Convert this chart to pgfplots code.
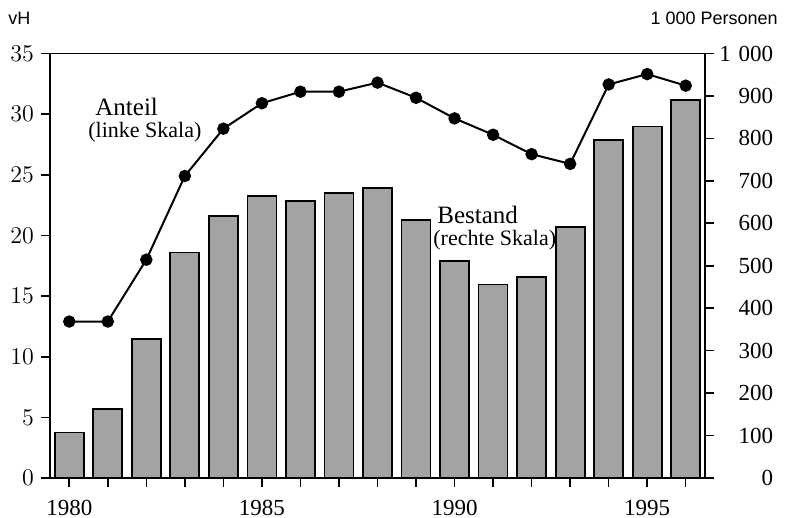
\documentclass[border=0pt]{standalone}
\usepackage{fontspec}
\setmainfont{Liberation Serif}
\setsansfont{Liberation Sans}
\usepackage{pgfplots}
\pgfplotsset{compat=1.18}

\begin{document}
\begin{tikzpicture}
\path[use as bounding box] (-25pt,-20pt) rectangle (371pt,239pt);
\pgfplotsset{
  common/.style={
    at={(0,0)}, anchor=south west,
    scale only axis, width=327.5pt, height=212.25pt,
    xmin=1979.5, xmax=1996.5,
    tick align=outside, major tick length=4.5pt,
    tick style={line width=0.8pt, black},
    axis line style={line width=0.8pt},
    ticklabel style={font=\fontsize{11.5}{12}\selectfont},
  }
}
% Bestand (rechte Skala)
\begin{axis}[common,
  ymin=0, ymax=1000,
  ytick={0,100,...,1000},
  yticklabels={0,100,200,300,400,500,600,700,800,900,1~000},
  ytick pos=right,
  yticklabel style={text width=28pt, align=right, xshift=-2pt},
  xtick={1980,...,1996},
  xticklabels={1980,,,,,1985,,,,,1990,,,,,1995,},
  xtick pos=bottom,
  xticklabel style={yshift=-3pt},
]
\addplot[ybar, bar width=14.5pt, fill=black!36, draw=black, line width=0.9pt]
  coordinates {
  (1980,107) (1981,163) (1982,327) (1983,531) (1984,617) (1985,664)
  (1986,653) (1987,672) (1988,684) (1989,608) (1990,512) (1991,456)
  (1992,474) (1993,592) (1994,796) (1995,828) (1996,890)
  };
\end{axis}
% Anteil (linke Skala)
\begin{axis}[common,
  ymin=0, ymax=35,
  ytick={0,5,...,35},
  axis y line*=left,
  hide x axis,
]
\addplot[black, line width=1pt, mark=*, mark size=2.6pt, mark options={fill=black}]
  coordinates {
  (1980,12.9) (1981,12.9) (1982,18.0) (1983,24.9) (1984,28.8) (1985,30.9)
  (1986,31.85) (1987,31.85) (1988,32.6) (1989,31.35) (1990,29.65) (1991,28.3)
  (1992,26.7) (1993,25.9) (1994,32.45) (1995,33.3) (1996,32.35)
  };
\end{axis}
\node[anchor=west, font=\sffamily\fontsize{9}{10}\selectfont, inner sep=0pt] at (-21pt,230pt) {vH};
\node[anchor=east, font=\sffamily\fontsize{9}{10}\selectfont, inner sep=0pt] at (364pt,230pt) {1 000 Personen};
\node[anchor=west, font=\fontsize{12.5}{13}\selectfont, inner sep=0pt] at (22.5pt,185.5pt) {Anteil};
\node[anchor=west, font=\fontsize{11}{12}\selectfont, inner sep=0pt] at (19pt,173pt) {(linke Skala)};
\node[anchor=west, font=\fontsize{12.5}{13}\selectfont, inner sep=0pt] at (193.5pt,131.5pt) {Bestand};
\node[anchor=west, font=\fontsize{11}{12}\selectfont, inner sep=0pt] at (191.5pt,119pt) {(rechte Skala)};
\end{tikzpicture}
\end{document}
